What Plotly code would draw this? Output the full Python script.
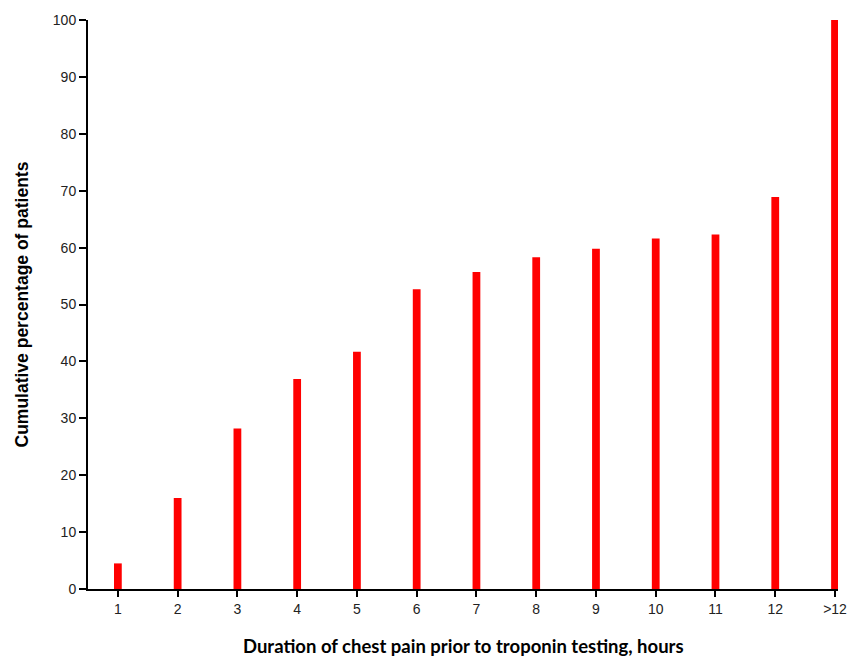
import plotly.graph_objects as go

categories = ["1", "2", "3", "4", "5", "6", "7", "8", "9", "10", "11", "12", ">12"]
cumulative_pct = [4.5, 16.0, 28.2, 36.9, 41.7, 52.7, 55.7, 58.3, 59.8, 61.6, 62.3, 68.9, 100.0]
y_ticks = [0, 10, 20, 30, 40, 50, 60, 70, 80, 90, 100]

xpos = list(range(len(categories)))

fig = go.Figure()
fig.add_trace(go.Bar(
    x=xpos, y=cumulative_pct, width=0.13,
    marker=dict(color="#FF0000", line=dict(width=0)),
))

fig.update_layout(
    width=859, height=662,
    margin=dict(l=88, r=16, t=14, b=73),
    plot_bgcolor="white", paper_bgcolor="white",
    showlegend=False,
    font=dict(family="Liberation Sans", size=13, color="#222"),
)
fig.update_xaxes(
    range=[-0.5, 12.05], tickmode="array", tickvals=xpos, ticktext=categories,
    showline=True, linecolor="black", linewidth=2,
    ticks="outside", ticklen=6, tickwidth=2, tickcolor="black",
    showgrid=False, zeroline=False,
    tickfont=dict(family="Liberation Sans", size=14, color="#222"),
)
fig.update_yaxes(
    range=[0, 100], tickmode="array", tickvals=y_ticks,
    showline=True, linecolor="black", linewidth=2,
    ticks="outside", ticklen=7, tickwidth=2, tickcolor="black",
    showgrid=False, zeroline=False,
    tickfont=dict(family="Liberation Sans", size=14, color="#222"),
)
fig.add_annotation(
    text="<b>Duration of chest pain prior to troponin testing, hours</b>",
    xref="paper", yref="paper", x=0.5, y=0, yshift=-57, yanchor="middle",
    showarrow=False, font=dict(family="Lato", size=18.5, color="black"),
)
fig.add_annotation(
    text="<b>Cumulative percentage of patients</b>",
    xref="paper", yref="paper", x=0, xshift=-67, y=0.5, xanchor="center", yanchor="middle",
    textangle=-90, showarrow=False,
    font=dict(family="Liberation Sans", size=17.5, color="black"),
)

fig.write_html("out.html", config={"displayModeBar": False},
               post_script="document.body.style.margin='0';document.body.style.overflow='hidden';")
